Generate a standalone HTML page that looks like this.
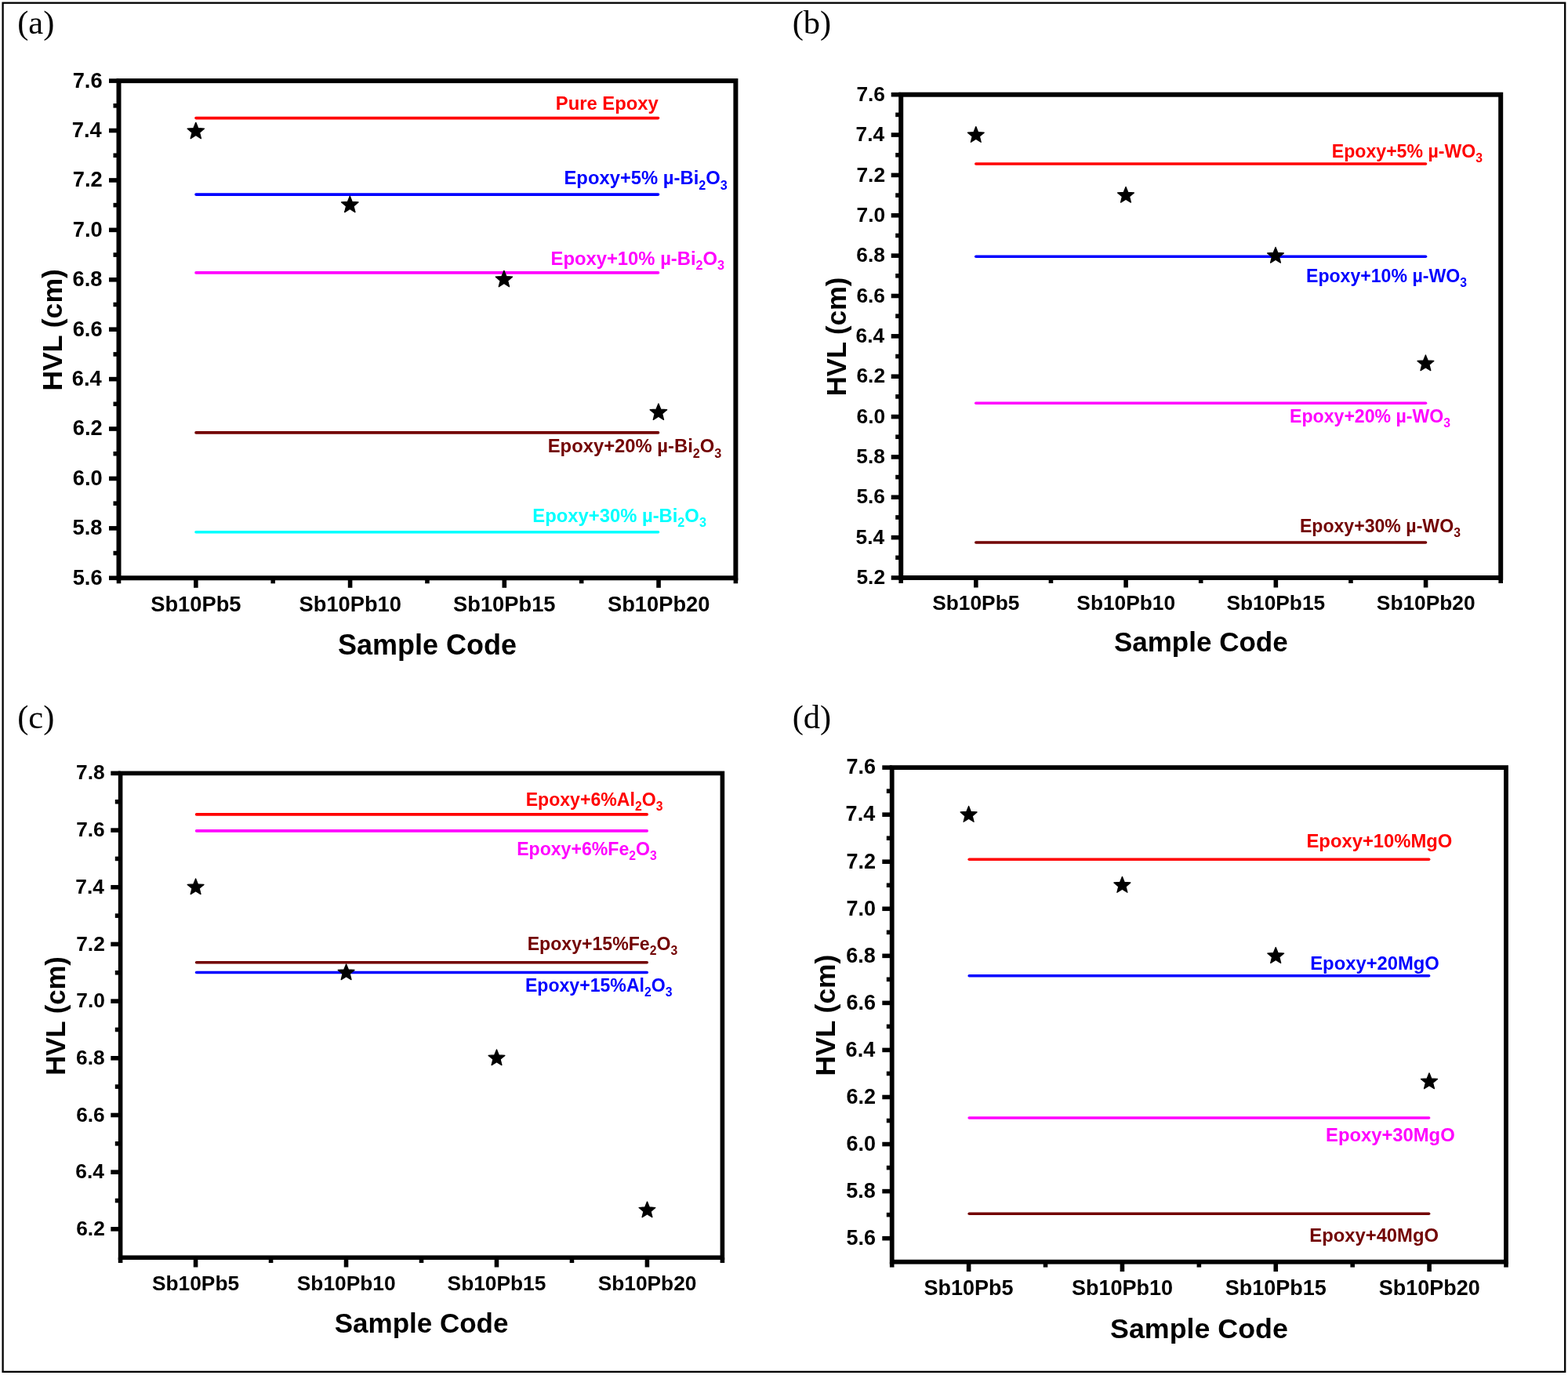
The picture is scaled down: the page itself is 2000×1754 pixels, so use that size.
<!DOCTYPE html>
<html><head><meta charset="utf-8"><title>HVL figure</title>
<style>
html,body{margin:0;padding:0;background:#fff;}
body{width:2000px;height:1754px;overflow:hidden;}
svg{display:block;}
text{font-family:"Liberation Sans",Arial,sans-serif;}
text.pl{font-family:"Liberation Serif","Times New Roman",serif;}
</style></head><body>
<svg width="2000" height="1754" viewBox="0 0 2000 1754">
<rect x="0" y="0" width="2000" height="1754" fill="#fff"/>
<rect x="3.6" y="3.7" width="1992.6" height="1746.2" fill="none" stroke="#000" stroke-width="2.3"/>
<line x1="250" x2="839.5" y1="150.6" y2="150.6" stroke="#ff0000" stroke-width="3.6" stroke-linecap="round"/>
<line x1="250" x2="839.5" y1="248.1" y2="248.1" stroke="#0000ff" stroke-width="3.6" stroke-linecap="round"/>
<line x1="250" x2="839.5" y1="347.9" y2="347.9" stroke="#ff00ff" stroke-width="3.6" stroke-linecap="round"/>
<line x1="250" x2="839.5" y1="551.9" y2="551.9" stroke="#720000" stroke-width="3.6" stroke-linecap="round"/>
<line x1="250" x2="839.5" y1="678.7" y2="678.7" stroke="#00ffff" stroke-width="3.6" stroke-linecap="round"/>
<polygon points="249.80,156.30 252.72,163.58 260.55,164.11 254.53,169.14 256.44,176.74 249.80,172.57 243.16,176.74 245.07,169.14 239.05,164.11 246.88,163.58" fill="#000" stroke="#000" stroke-width="1.3" stroke-linejoin="round"/>
<polygon points="446.30,250.20 449.22,257.48 457.05,258.01 451.03,263.04 452.94,270.64 446.30,266.47 439.66,270.64 441.57,263.04 435.55,258.01 443.38,257.48" fill="#000" stroke="#000" stroke-width="1.3" stroke-linejoin="round"/>
<polygon points="642.90,345.30 645.82,352.58 653.65,353.11 647.63,358.14 649.54,365.74 642.90,361.57 636.26,365.74 638.17,358.14 632.15,353.11 639.98,352.58" fill="#000" stroke="#000" stroke-width="1.3" stroke-linejoin="round"/>
<polygon points="839.90,514.90 842.82,522.18 850.65,522.71 844.63,527.74 846.54,535.34 839.90,531.17 833.26,535.34 835.17,527.74 829.15,522.71 836.98,522.18" fill="#000" stroke="#000" stroke-width="1.3" stroke-linejoin="round"/>
<line x1="139.0" x2="151.5" y1="737.30" y2="737.30" stroke="#000" stroke-width="5.6"/>
<line x1="139.0" x2="151.5" y1="673.88" y2="673.88" stroke="#000" stroke-width="5.6"/>
<line x1="139.0" x2="151.5" y1="610.46" y2="610.46" stroke="#000" stroke-width="5.6"/>
<line x1="139.0" x2="151.5" y1="547.04" y2="547.04" stroke="#000" stroke-width="5.6"/>
<line x1="139.0" x2="151.5" y1="483.62" y2="483.62" stroke="#000" stroke-width="5.6"/>
<line x1="139.0" x2="151.5" y1="420.20" y2="420.20" stroke="#000" stroke-width="5.6"/>
<line x1="139.0" x2="151.5" y1="356.78" y2="356.78" stroke="#000" stroke-width="5.6"/>
<line x1="139.0" x2="151.5" y1="293.36" y2="293.36" stroke="#000" stroke-width="5.6"/>
<line x1="139.0" x2="151.5" y1="229.94" y2="229.94" stroke="#000" stroke-width="5.6"/>
<line x1="139.0" x2="151.5" y1="166.52" y2="166.52" stroke="#000" stroke-width="5.6"/>
<line x1="139.0" x2="151.5" y1="103.10" y2="103.10" stroke="#000" stroke-width="5.6"/>
<line x1="144.5" x2="151.5" y1="705.59" y2="705.59" stroke="#000" stroke-width="5.6"/>
<line x1="144.5" x2="151.5" y1="642.17" y2="642.17" stroke="#000" stroke-width="5.6"/>
<line x1="144.5" x2="151.5" y1="578.75" y2="578.75" stroke="#000" stroke-width="5.6"/>
<line x1="144.5" x2="151.5" y1="515.33" y2="515.33" stroke="#000" stroke-width="5.6"/>
<line x1="144.5" x2="151.5" y1="451.91" y2="451.91" stroke="#000" stroke-width="5.6"/>
<line x1="144.5" x2="151.5" y1="388.49" y2="388.49" stroke="#000" stroke-width="5.6"/>
<line x1="144.5" x2="151.5" y1="325.07" y2="325.07" stroke="#000" stroke-width="5.6"/>
<line x1="144.5" x2="151.5" y1="261.65" y2="261.65" stroke="#000" stroke-width="5.6"/>
<line x1="144.5" x2="151.5" y1="198.23" y2="198.23" stroke="#000" stroke-width="5.6"/>
<line x1="144.5" x2="151.5" y1="134.81" y2="134.81" stroke="#000" stroke-width="5.6"/>
<line x1="249.86" x2="249.86" y1="737.3" y2="749.8" stroke="#000" stroke-width="5.6"/>
<line x1="446.59" x2="446.59" y1="737.3" y2="749.8" stroke="#000" stroke-width="5.6"/>
<line x1="643.31" x2="643.31" y1="737.3" y2="749.8" stroke="#000" stroke-width="5.6"/>
<line x1="840.04" x2="840.04" y1="737.3" y2="749.8" stroke="#000" stroke-width="5.6"/>
<line x1="151.50" x2="151.50" y1="737.3" y2="744.3" stroke="#000" stroke-width="5.6"/>
<line x1="348.23" x2="348.23" y1="737.3" y2="744.3" stroke="#000" stroke-width="5.6"/>
<line x1="544.95" x2="544.95" y1="737.3" y2="744.3" stroke="#000" stroke-width="5.6"/>
<line x1="741.67" x2="741.67" y1="737.3" y2="744.3" stroke="#000" stroke-width="5.6"/>
<line x1="938.40" x2="938.40" y1="737.3" y2="744.3" stroke="#000" stroke-width="5.6"/>
<rect x="151.5" y="103.1" width="786.9" height="634.1999999999999" fill="none" stroke="#000" stroke-width="6.0"/>
<text x="92.64" y="745.70" font-size="27.3" font-weight="700">5.6</text>
<text x="92.49" y="682.28" font-size="27.3" font-weight="700">5.8</text>
<text x="92.77" y="618.86" font-size="27.3" font-weight="700">6.0</text>
<text x="92.74" y="555.44" font-size="27.3" font-weight="700">6.2</text>
<text x="91.80" y="492.02" font-size="27.3" font-weight="700">6.4</text>
<text x="92.64" y="428.60" font-size="27.3" font-weight="700">6.6</text>
<text x="92.49" y="365.18" font-size="27.3" font-weight="700">6.8</text>
<text x="92.77" y="301.76" font-size="27.3" font-weight="700">7.0</text>
<text x="92.74" y="238.47" font-size="27.3" font-weight="700">7.2</text>
<text x="91.80" y="174.91" font-size="27.3" font-weight="700">7.4</text>
<text x="92.64" y="111.50" font-size="27.3" font-weight="700">7.6</text>
<text x="192.19" y="779.50" font-size="27.3" font-weight="700">Sb10Pb5</text>
<text x="381.50" y="779.50" font-size="27.3" font-weight="700">Sb10Pb10</text>
<text x="578.05" y="779.50" font-size="27.3" font-weight="700">Sb10Pb15</text>
<text x="774.95" y="779.50" font-size="27.3" font-weight="700">Sb10Pb20</text>
<text x="431.02" y="834.6" font-size="36" font-weight="700">Sample Code</text>
<text transform="translate(78.8,420.2) rotate(-90)" x="-78.43" y="0" font-size="35.6" font-weight="700">HVL (cm)</text>
<text fill="#ff0000"><tspan x="708.78" y="140.30" font-size="23.80" font-weight="700">Pure Epoxy</tspan></text>
<text fill="#0000ff"><tspan x="719.50" y="235.30" font-size="23.80" font-weight="700">Epoxy+5% </tspan><tspan x="845.83" y="235.30" font-size="23.80" font-weight="700">µ</tspan><tspan x="859.55" y="235.30" font-size="23.80" font-weight="700">-Bi</tspan><tspan x="891.27" y="241.73" font-size="16.18" font-weight="700">2</tspan><tspan x="900.27" y="235.30" font-size="23.80" font-weight="700">O</tspan><tspan x="918.78" y="241.73" font-size="16.18" font-weight="700">3</tspan></text>
<text fill="#ff00ff"><tspan x="702.56" y="337.50" font-size="23.80" font-weight="700">Epoxy+10% </tspan><tspan x="842.13" y="337.50" font-size="23.80" font-weight="700">µ</tspan><tspan x="855.85" y="337.50" font-size="23.80" font-weight="700">-Bi</tspan><tspan x="887.57" y="343.93" font-size="16.18" font-weight="700">2</tspan><tspan x="896.57" y="337.50" font-size="23.80" font-weight="700">O</tspan><tspan x="915.08" y="343.93" font-size="16.18" font-weight="700">3</tspan></text>
<text fill="#720000"><tspan x="698.76" y="577.20" font-size="23.80" font-weight="700">Epoxy+20% </tspan><tspan x="838.33" y="577.20" font-size="23.80" font-weight="700">µ</tspan><tspan x="852.05" y="577.20" font-size="23.80" font-weight="700">-Bi</tspan><tspan x="883.77" y="583.63" font-size="16.18" font-weight="700">2</tspan><tspan x="892.77" y="577.20" font-size="23.80" font-weight="700">O</tspan><tspan x="911.28" y="583.63" font-size="16.18" font-weight="700">3</tspan></text>
<text fill="#00ffff"><tspan x="679.36" y="665.70" font-size="23.80" font-weight="700">Epoxy+30% </tspan><tspan x="818.93" y="665.70" font-size="23.80" font-weight="700">µ</tspan><tspan x="832.65" y="665.70" font-size="23.80" font-weight="700">-Bi</tspan><tspan x="864.37" y="672.13" font-size="16.18" font-weight="700">2</tspan><tspan x="873.37" y="665.70" font-size="23.80" font-weight="700">O</tspan><tspan x="891.88" y="672.13" font-size="16.18" font-weight="700">3</tspan></text>
<text x="22.13" y="43.2" class="pl" font-size="42.5" font-weight="400">(a)</text>
<line x1="1244.8" x2="1818.5" y1="209" y2="209" stroke="#ff0000" stroke-width="3.6" stroke-linecap="round"/>
<line x1="1244.8" x2="1818.5" y1="327.2" y2="327.2" stroke="#0000ff" stroke-width="3.6" stroke-linecap="round"/>
<line x1="1244.8" x2="1818.5" y1="514.2" y2="514.2" stroke="#ff00ff" stroke-width="3.6" stroke-linecap="round"/>
<line x1="1244.8" x2="1818.5" y1="692" y2="692" stroke="#720000" stroke-width="3.6" stroke-linecap="round"/>
<polygon points="1244.80,161.60 1247.62,168.62 1255.17,169.13 1249.36,173.98 1251.21,181.32 1244.80,177.30 1238.39,181.32 1240.24,173.98 1234.43,169.13 1241.98,168.62" fill="#000" stroke="#000" stroke-width="1.3" stroke-linejoin="round"/>
<polygon points="1436.00,238.40 1438.82,245.42 1446.37,245.93 1440.56,250.78 1442.41,258.12 1436.00,254.10 1429.59,258.12 1431.44,250.78 1425.63,245.93 1433.18,245.42" fill="#000" stroke="#000" stroke-width="1.3" stroke-linejoin="round"/>
<polygon points="1627.00,315.40 1629.82,322.42 1637.37,322.93 1631.56,327.78 1633.41,335.12 1627.00,331.10 1620.59,335.12 1622.44,327.78 1616.63,322.93 1624.18,322.42" fill="#000" stroke="#000" stroke-width="1.3" stroke-linejoin="round"/>
<polygon points="1818.40,452.90 1821.22,459.92 1828.77,460.43 1822.96,465.28 1824.81,472.62 1818.40,468.60 1811.99,472.62 1813.84,465.28 1808.03,460.43 1815.58,459.92" fill="#000" stroke="#000" stroke-width="1.3" stroke-linejoin="round"/>
<line x1="1136.7" x2="1149.2" y1="737.00" y2="737.00" stroke="#000" stroke-width="5.6"/>
<line x1="1136.7" x2="1149.2" y1="685.64" y2="685.64" stroke="#000" stroke-width="5.6"/>
<line x1="1136.7" x2="1149.2" y1="634.28" y2="634.28" stroke="#000" stroke-width="5.6"/>
<line x1="1136.7" x2="1149.2" y1="582.93" y2="582.93" stroke="#000" stroke-width="5.6"/>
<line x1="1136.7" x2="1149.2" y1="531.57" y2="531.57" stroke="#000" stroke-width="5.6"/>
<line x1="1136.7" x2="1149.2" y1="480.21" y2="480.21" stroke="#000" stroke-width="5.6"/>
<line x1="1136.7" x2="1149.2" y1="428.85" y2="428.85" stroke="#000" stroke-width="5.6"/>
<line x1="1136.7" x2="1149.2" y1="377.49" y2="377.49" stroke="#000" stroke-width="5.6"/>
<line x1="1136.7" x2="1149.2" y1="326.13" y2="326.13" stroke="#000" stroke-width="5.6"/>
<line x1="1136.7" x2="1149.2" y1="274.77" y2="274.77" stroke="#000" stroke-width="5.6"/>
<line x1="1136.7" x2="1149.2" y1="223.42" y2="223.42" stroke="#000" stroke-width="5.6"/>
<line x1="1136.7" x2="1149.2" y1="172.06" y2="172.06" stroke="#000" stroke-width="5.6"/>
<line x1="1136.7" x2="1149.2" y1="120.70" y2="120.70" stroke="#000" stroke-width="5.6"/>
<line x1="1142.2" x2="1149.2" y1="711.32" y2="711.32" stroke="#000" stroke-width="5.6"/>
<line x1="1142.2" x2="1149.2" y1="659.96" y2="659.96" stroke="#000" stroke-width="5.6"/>
<line x1="1142.2" x2="1149.2" y1="608.60" y2="608.60" stroke="#000" stroke-width="5.6"/>
<line x1="1142.2" x2="1149.2" y1="557.25" y2="557.25" stroke="#000" stroke-width="5.6"/>
<line x1="1142.2" x2="1149.2" y1="505.89" y2="505.89" stroke="#000" stroke-width="5.6"/>
<line x1="1142.2" x2="1149.2" y1="454.53" y2="454.53" stroke="#000" stroke-width="5.6"/>
<line x1="1142.2" x2="1149.2" y1="403.17" y2="403.17" stroke="#000" stroke-width="5.6"/>
<line x1="1142.2" x2="1149.2" y1="351.81" y2="351.81" stroke="#000" stroke-width="5.6"/>
<line x1="1142.2" x2="1149.2" y1="300.45" y2="300.45" stroke="#000" stroke-width="5.6"/>
<line x1="1142.2" x2="1149.2" y1="249.10" y2="249.10" stroke="#000" stroke-width="5.6"/>
<line x1="1142.2" x2="1149.2" y1="197.74" y2="197.74" stroke="#000" stroke-width="5.6"/>
<line x1="1142.2" x2="1149.2" y1="146.38" y2="146.38" stroke="#000" stroke-width="5.6"/>
<line x1="1244.83" x2="1244.83" y1="737.0" y2="749.5" stroke="#000" stroke-width="5.6"/>
<line x1="1436.08" x2="1436.08" y1="737.0" y2="749.5" stroke="#000" stroke-width="5.6"/>
<line x1="1627.33" x2="1627.33" y1="737.0" y2="749.5" stroke="#000" stroke-width="5.6"/>
<line x1="1818.58" x2="1818.58" y1="737.0" y2="749.5" stroke="#000" stroke-width="5.6"/>
<line x1="1149.20" x2="1149.20" y1="737.0" y2="744.0" stroke="#000" stroke-width="5.6"/>
<line x1="1340.45" x2="1340.45" y1="737.0" y2="744.0" stroke="#000" stroke-width="5.6"/>
<line x1="1531.70" x2="1531.70" y1="737.0" y2="744.0" stroke="#000" stroke-width="5.6"/>
<line x1="1722.95" x2="1722.95" y1="737.0" y2="744.0" stroke="#000" stroke-width="5.6"/>
<line x1="1914.20" x2="1914.20" y1="737.0" y2="744.0" stroke="#000" stroke-width="5.6"/>
<rect x="1149.2" y="120.7" width="765.0" height="616.3" fill="none" stroke="#000" stroke-width="6.0"/>
<text x="1092.49" y="745.05" font-size="26.3" font-weight="700">5.2</text>
<text x="1091.58" y="693.56" font-size="26.3" font-weight="700">5.4</text>
<text x="1092.39" y="642.34" font-size="26.3" font-weight="700">5.6</text>
<text x="1092.25" y="590.98" font-size="26.3" font-weight="700">5.8</text>
<text x="1092.52" y="539.62" font-size="26.3" font-weight="700">6.0</text>
<text x="1092.49" y="488.26" font-size="26.3" font-weight="700">6.2</text>
<text x="1091.58" y="436.90" font-size="26.3" font-weight="700">6.4</text>
<text x="1092.39" y="385.55" font-size="26.3" font-weight="700">6.6</text>
<text x="1092.25" y="334.19" font-size="26.3" font-weight="700">6.8</text>
<text x="1092.52" y="282.83" font-size="26.3" font-weight="700">7.0</text>
<text x="1092.49" y="231.60" font-size="26.3" font-weight="700">7.2</text>
<text x="1091.58" y="180.11" font-size="26.3" font-weight="700">7.4</text>
<text x="1092.39" y="128.75" font-size="26.3" font-weight="700">7.6</text>
<text x="1189.26" y="777.60" font-size="26.3" font-weight="700">Sb10Pb5</text>
<text x="1373.37" y="777.60" font-size="26.3" font-weight="700">Sb10Pb10</text>
<text x="1564.45" y="777.60" font-size="26.3" font-weight="700">Sb10Pb15</text>
<text x="1755.87" y="777.60" font-size="26.3" font-weight="700">Sb10Pb20</text>
<text x="1420.93" y="831.0" font-size="35" font-weight="700">Sample Code</text>
<text transform="translate(1078.8,428.85) rotate(-90)" x="-76.45" y="0" font-size="34.7" font-weight="700">HVL (cm)</text>
<text fill="#ff0000"><tspan x="1698.84" y="200.50" font-size="23.10" font-weight="700">Epoxy+5% </tspan><tspan x="1821.46" y="200.50" font-size="23.10" font-weight="700">µ</tspan><tspan x="1834.77" y="200.50" font-size="23.10" font-weight="700">-WO</tspan><tspan x="1882.23" y="206.74" font-size="15.71" font-weight="700">3</tspan></text>
<text fill="#0000ff"><tspan x="1665.99" y="360.00" font-size="23.10" font-weight="700">Epoxy+10% </tspan><tspan x="1801.46" y="360.00" font-size="23.10" font-weight="700">µ</tspan><tspan x="1814.77" y="360.00" font-size="23.10" font-weight="700">-WO</tspan><tspan x="1862.23" y="366.24" font-size="15.71" font-weight="700">3</tspan></text>
<text fill="#ff00ff"><tspan x="1645.09" y="539.10" font-size="23.10" font-weight="700">Epoxy+20% </tspan><tspan x="1780.56" y="539.10" font-size="23.10" font-weight="700">µ</tspan><tspan x="1793.87" y="539.10" font-size="23.10" font-weight="700">-WO</tspan><tspan x="1841.33" y="545.34" font-size="15.71" font-weight="700">3</tspan></text>
<text fill="#720000"><tspan x="1657.89" y="678.90" font-size="23.10" font-weight="700">Epoxy+30% </tspan><tspan x="1793.36" y="678.90" font-size="23.10" font-weight="700">µ</tspan><tspan x="1806.67" y="678.90" font-size="23.10" font-weight="700">-WO</tspan><tspan x="1854.13" y="685.14" font-size="15.71" font-weight="700">3</tspan></text>
<text x="1010.63" y="43.2" class="pl" font-size="42.5" font-weight="400">(b)</text>
<line x1="250.6" x2="825.2" y1="1038.9" y2="1038.9" stroke="#ff0000" stroke-width="3.6" stroke-linecap="round"/>
<line x1="250.6" x2="825.2" y1="1059.9" y2="1059.9" stroke="#ff00ff" stroke-width="3.6" stroke-linecap="round"/>
<line x1="250.6" x2="825.2" y1="1227.8" y2="1227.8" stroke="#720000" stroke-width="3.6" stroke-linecap="round"/>
<line x1="250.6" x2="825.2" y1="1240.5" y2="1240.5" stroke="#0000ff" stroke-width="3.6" stroke-linecap="round"/>
<polygon points="249.60,1120.90 252.42,1127.92 259.97,1128.43 254.16,1133.28 256.01,1140.62 249.60,1136.60 243.19,1140.62 245.04,1133.28 239.23,1128.43 246.78,1127.92" fill="#000" stroke="#000" stroke-width="1.3" stroke-linejoin="round"/>
<polygon points="441.60,1229.90 444.42,1236.92 451.97,1237.43 446.16,1242.28 448.01,1249.62 441.60,1245.60 435.19,1249.62 437.04,1242.28 431.23,1237.43 438.78,1236.92" fill="#000" stroke="#000" stroke-width="1.3" stroke-linejoin="round"/>
<polygon points="633.50,1338.90 636.32,1345.92 643.87,1346.43 638.06,1351.28 639.91,1358.62 633.50,1354.60 627.09,1358.62 628.94,1351.28 623.13,1346.43 630.68,1345.92" fill="#000" stroke="#000" stroke-width="1.3" stroke-linejoin="round"/>
<polygon points="825.50,1533.00 828.32,1540.02 835.87,1540.53 830.06,1545.38 831.91,1552.72 825.50,1548.70 819.09,1552.72 820.94,1545.38 815.13,1540.53 822.68,1540.02" fill="#000" stroke="#000" stroke-width="1.3" stroke-linejoin="round"/>
<line x1="141.29999999999998" x2="153.6" y1="1567.86" y2="1567.86" stroke="#000" stroke-width="5.6"/>
<line x1="141.29999999999998" x2="153.6" y1="1495.18" y2="1495.18" stroke="#000" stroke-width="5.6"/>
<line x1="141.29999999999998" x2="153.6" y1="1422.49" y2="1422.49" stroke="#000" stroke-width="5.6"/>
<line x1="141.29999999999998" x2="153.6" y1="1349.81" y2="1349.81" stroke="#000" stroke-width="5.6"/>
<line x1="141.29999999999998" x2="153.6" y1="1277.13" y2="1277.13" stroke="#000" stroke-width="5.6"/>
<line x1="141.29999999999998" x2="153.6" y1="1204.45" y2="1204.45" stroke="#000" stroke-width="5.6"/>
<line x1="141.29999999999998" x2="153.6" y1="1131.76" y2="1131.76" stroke="#000" stroke-width="5.6"/>
<line x1="141.29999999999998" x2="153.6" y1="1059.08" y2="1059.08" stroke="#000" stroke-width="5.6"/>
<line x1="141.29999999999998" x2="153.6" y1="986.40" y2="986.40" stroke="#000" stroke-width="5.6"/>
<line x1="146.79999999999998" x2="153.6" y1="1531.52" y2="1531.52" stroke="#000" stroke-width="5.6"/>
<line x1="146.79999999999998" x2="153.6" y1="1458.84" y2="1458.84" stroke="#000" stroke-width="5.6"/>
<line x1="146.79999999999998" x2="153.6" y1="1386.15" y2="1386.15" stroke="#000" stroke-width="5.6"/>
<line x1="146.79999999999998" x2="153.6" y1="1313.47" y2="1313.47" stroke="#000" stroke-width="5.6"/>
<line x1="146.79999999999998" x2="153.6" y1="1240.79" y2="1240.79" stroke="#000" stroke-width="5.6"/>
<line x1="146.79999999999998" x2="153.6" y1="1168.11" y2="1168.11" stroke="#000" stroke-width="5.6"/>
<line x1="146.79999999999998" x2="153.6" y1="1095.42" y2="1095.42" stroke="#000" stroke-width="5.6"/>
<line x1="146.79999999999998" x2="153.6" y1="1022.74" y2="1022.74" stroke="#000" stroke-width="5.6"/>
<line x1="249.57" x2="249.57" y1="1604.2" y2="1616.5" stroke="#000" stroke-width="5.6"/>
<line x1="441.52" x2="441.52" y1="1604.2" y2="1616.5" stroke="#000" stroke-width="5.6"/>
<line x1="633.48" x2="633.48" y1="1604.2" y2="1616.5" stroke="#000" stroke-width="5.6"/>
<line x1="825.42" x2="825.42" y1="1604.2" y2="1616.5" stroke="#000" stroke-width="5.6"/>
<line x1="153.60" x2="153.60" y1="1604.2" y2="1611.0" stroke="#000" stroke-width="5.6"/>
<line x1="345.55" x2="345.55" y1="1604.2" y2="1611.0" stroke="#000" stroke-width="5.6"/>
<line x1="537.50" x2="537.50" y1="1604.2" y2="1611.0" stroke="#000" stroke-width="5.6"/>
<line x1="729.45" x2="729.45" y1="1604.2" y2="1611.0" stroke="#000" stroke-width="5.6"/>
<line x1="921.40" x2="921.40" y1="1604.2" y2="1611.0" stroke="#000" stroke-width="5.6"/>
<rect x="153.6" y="986.4" width="767.8" height="617.8000000000001" fill="none" stroke="#000" stroke-width="5.6"/>
<text x="97.24" y="1575.91" font-size="26.3" font-weight="700">6.2</text>
<text x="96.33" y="1503.23" font-size="26.3" font-weight="700">6.4</text>
<text x="97.14" y="1430.55" font-size="26.3" font-weight="700">6.6</text>
<text x="97.00" y="1357.87" font-size="26.3" font-weight="700">6.8</text>
<text x="97.27" y="1285.18" font-size="26.3" font-weight="700">7.0</text>
<text x="97.24" y="1212.63" font-size="26.3" font-weight="700">7.2</text>
<text x="96.33" y="1139.81" font-size="26.3" font-weight="700">7.4</text>
<text x="97.14" y="1067.14" font-size="26.3" font-weight="700">7.6</text>
<text x="97.00" y="994.45" font-size="26.3" font-weight="700">7.8</text>
<text x="194.01" y="1645.60" font-size="26.3" font-weight="700">Sb10Pb5</text>
<text x="378.82" y="1645.60" font-size="26.3" font-weight="700">Sb10Pb10</text>
<text x="570.60" y="1645.60" font-size="26.3" font-weight="700">Sb10Pb15</text>
<text x="762.72" y="1645.60" font-size="26.3" font-weight="700">Sb10Pb20</text>
<text x="426.73" y="1699.5" font-size="35" font-weight="700">Sample Code</text>
<text transform="translate(83.1,1295.3) rotate(-90)" x="-76.45" y="0" font-size="34.7" font-weight="700">HVL (cm)</text>
<text fill="#ff0000"><tspan x="670.63" y="1027.50" font-size="23.10" font-weight="700">Epoxy+6%Al</tspan><tspan x="809.93" y="1033.74" font-size="15.71" font-weight="700">2</tspan><tspan x="818.66" y="1027.50" font-size="23.10" font-weight="700">O</tspan><tspan x="836.63" y="1033.74" font-size="15.71" font-weight="700">3</tspan></text>
<text fill="#ff00ff"><tspan x="659.17" y="1090.50" font-size="23.10" font-weight="700">Epoxy+6%Fe</tspan><tspan x="802.33" y="1096.74" font-size="15.71" font-weight="700">2</tspan><tspan x="811.06" y="1090.50" font-size="23.10" font-weight="700">O</tspan><tspan x="829.03" y="1096.74" font-size="15.71" font-weight="700">3</tspan></text>
<text fill="#720000"><tspan x="672.72" y="1211.50" font-size="23.10" font-weight="700">Epoxy+15%Fe</tspan><tspan x="828.73" y="1217.74" font-size="15.71" font-weight="700">2</tspan><tspan x="837.46" y="1211.50" font-size="23.10" font-weight="700">O</tspan><tspan x="855.43" y="1217.74" font-size="15.71" font-weight="700">3</tspan></text>
<text fill="#0000ff"><tspan x="669.88" y="1264.70" font-size="23.10" font-weight="700">Epoxy+15%Al</tspan><tspan x="822.03" y="1270.94" font-size="15.71" font-weight="700">2</tspan><tspan x="830.76" y="1264.70" font-size="23.10" font-weight="700">O</tspan><tspan x="848.73" y="1270.94" font-size="15.71" font-weight="700">3</tspan></text>
<text x="22.13" y="929" class="pl" font-size="42.5" font-weight="400">(c)</text>
<line x1="1236.2" x2="1822.6" y1="1096.2" y2="1096.2" stroke="#ff0000" stroke-width="3.6" stroke-linecap="round"/>
<line x1="1236.2" x2="1822.6" y1="1244.7" y2="1244.7" stroke="#0000ff" stroke-width="3.6" stroke-linecap="round"/>
<line x1="1236.2" x2="1822.6" y1="1426" y2="1426" stroke="#ff00ff" stroke-width="3.6" stroke-linecap="round"/>
<line x1="1236.2" x2="1822.6" y1="1548.3" y2="1548.3" stroke="#720000" stroke-width="3.6" stroke-linecap="round"/>
<polygon points="1235.60,1028.40 1238.44,1035.48 1246.06,1036.00 1240.20,1040.90 1242.07,1048.30 1235.60,1044.24 1229.13,1048.30 1231.00,1040.90 1225.14,1036.00 1232.76,1035.48" fill="#000" stroke="#000" stroke-width="1.3" stroke-linejoin="round"/>
<polygon points="1431.40,1118.40 1434.24,1125.48 1441.86,1126.00 1436.00,1130.90 1437.87,1138.30 1431.40,1134.24 1424.93,1138.30 1426.80,1130.90 1420.94,1126.00 1428.56,1125.48" fill="#000" stroke="#000" stroke-width="1.3" stroke-linejoin="round"/>
<polygon points="1627.20,1208.50 1630.04,1215.58 1637.66,1216.10 1631.80,1221.00 1633.67,1228.40 1627.20,1224.34 1620.73,1228.40 1622.60,1221.00 1616.74,1216.10 1624.36,1215.58" fill="#000" stroke="#000" stroke-width="1.3" stroke-linejoin="round"/>
<polygon points="1823.00,1368.80 1825.84,1375.88 1833.46,1376.40 1827.60,1381.30 1829.47,1388.70 1823.00,1384.64 1816.53,1388.70 1818.40,1381.30 1812.54,1376.40 1820.16,1375.88" fill="#000" stroke="#000" stroke-width="1.3" stroke-linejoin="round"/>
<line x1="1125.3" x2="1137.7" y1="1579.67" y2="1579.67" stroke="#000" stroke-width="5.6"/>
<line x1="1125.3" x2="1137.7" y1="1519.61" y2="1519.61" stroke="#000" stroke-width="5.6"/>
<line x1="1125.3" x2="1137.7" y1="1459.56" y2="1459.56" stroke="#000" stroke-width="5.6"/>
<line x1="1125.3" x2="1137.7" y1="1399.50" y2="1399.50" stroke="#000" stroke-width="5.6"/>
<line x1="1125.3" x2="1137.7" y1="1339.44" y2="1339.44" stroke="#000" stroke-width="5.6"/>
<line x1="1125.3" x2="1137.7" y1="1279.39" y2="1279.39" stroke="#000" stroke-width="5.6"/>
<line x1="1125.3" x2="1137.7" y1="1219.33" y2="1219.33" stroke="#000" stroke-width="5.6"/>
<line x1="1125.3" x2="1137.7" y1="1159.27" y2="1159.27" stroke="#000" stroke-width="5.6"/>
<line x1="1125.3" x2="1137.7" y1="1099.21" y2="1099.21" stroke="#000" stroke-width="5.6"/>
<line x1="1125.3" x2="1137.7" y1="1039.16" y2="1039.16" stroke="#000" stroke-width="5.6"/>
<line x1="1125.3" x2="1137.7" y1="979.10" y2="979.10" stroke="#000" stroke-width="5.6"/>
<line x1="1130.8" x2="1137.7" y1="1549.64" y2="1549.64" stroke="#000" stroke-width="5.6"/>
<line x1="1130.8" x2="1137.7" y1="1489.59" y2="1489.59" stroke="#000" stroke-width="5.6"/>
<line x1="1130.8" x2="1137.7" y1="1429.53" y2="1429.53" stroke="#000" stroke-width="5.6"/>
<line x1="1130.8" x2="1137.7" y1="1369.47" y2="1369.47" stroke="#000" stroke-width="5.6"/>
<line x1="1130.8" x2="1137.7" y1="1309.41" y2="1309.41" stroke="#000" stroke-width="5.6"/>
<line x1="1130.8" x2="1137.7" y1="1249.36" y2="1249.36" stroke="#000" stroke-width="5.6"/>
<line x1="1130.8" x2="1137.7" y1="1189.30" y2="1189.30" stroke="#000" stroke-width="5.6"/>
<line x1="1130.8" x2="1137.7" y1="1129.24" y2="1129.24" stroke="#000" stroke-width="5.6"/>
<line x1="1130.8" x2="1137.7" y1="1069.19" y2="1069.19" stroke="#000" stroke-width="5.6"/>
<line x1="1130.8" x2="1137.7" y1="1009.13" y2="1009.13" stroke="#000" stroke-width="5.6"/>
<line x1="1235.61" x2="1235.61" y1="1609.7" y2="1622.1000000000001" stroke="#000" stroke-width="5.6"/>
<line x1="1431.44" x2="1431.44" y1="1609.7" y2="1622.1000000000001" stroke="#000" stroke-width="5.6"/>
<line x1="1627.26" x2="1627.26" y1="1609.7" y2="1622.1000000000001" stroke="#000" stroke-width="5.6"/>
<line x1="1823.09" x2="1823.09" y1="1609.7" y2="1622.1000000000001" stroke="#000" stroke-width="5.6"/>
<line x1="1137.70" x2="1137.70" y1="1609.7" y2="1616.6000000000001" stroke="#000" stroke-width="5.6"/>
<line x1="1333.53" x2="1333.53" y1="1609.7" y2="1616.6000000000001" stroke="#000" stroke-width="5.6"/>
<line x1="1529.35" x2="1529.35" y1="1609.7" y2="1616.6000000000001" stroke="#000" stroke-width="5.6"/>
<line x1="1725.17" x2="1725.17" y1="1609.7" y2="1616.6000000000001" stroke="#000" stroke-width="5.6"/>
<line x1="1921.00" x2="1921.00" y1="1609.7" y2="1616.6000000000001" stroke="#000" stroke-width="5.6"/>
<rect x="1137.7" y="979.1" width="783.3" height="630.6" fill="none" stroke="#000" stroke-width="5.8"/>
<text x="1079.44" y="1587.97" font-size="27" font-weight="700">5.6</text>
<text x="1079.30" y="1527.91" font-size="27" font-weight="700">5.8</text>
<text x="1079.57" y="1467.85" font-size="27" font-weight="700">6.0</text>
<text x="1079.55" y="1407.79" font-size="27" font-weight="700">6.2</text>
<text x="1078.61" y="1347.74" font-size="27" font-weight="700">6.4</text>
<text x="1079.44" y="1287.68" font-size="27" font-weight="700">6.6</text>
<text x="1079.30" y="1227.62" font-size="27" font-weight="700">6.8</text>
<text x="1079.57" y="1167.57" font-size="27" font-weight="700">7.0</text>
<text x="1079.55" y="1107.64" font-size="27" font-weight="700">7.2</text>
<text x="1078.61" y="1047.44" font-size="27" font-weight="700">7.4</text>
<text x="1079.44" y="987.39" font-size="27" font-weight="700">7.6</text>
<text x="1178.57" y="1651.80" font-size="27" font-weight="700">Sb10Pb5</text>
<text x="1367.07" y="1651.80" font-size="27" font-weight="700">Sb10Pb10</text>
<text x="1562.72" y="1651.80" font-size="27" font-weight="700">Sb10Pb15</text>
<text x="1758.72" y="1651.80" font-size="27" font-weight="700">Sb10Pb20</text>
<text x="1416.05" y="1706.5" font-size="35.8" font-weight="700">Sample Code</text>
<text transform="translate(1065.4,1294.4) rotate(-90)" x="-77.99" y="0" font-size="35.4" font-weight="700">HVL (cm)</text>
<text fill="#ff0000"><tspan x="1666.47" y="1081.40" font-size="23.80" font-weight="700">Epoxy+10%MgO</tspan></text>
<text fill="#0000ff"><tspan x="1671.23" y="1237.00" font-size="23.80" font-weight="700">Epoxy+20MgO</tspan></text>
<text fill="#ff00ff"><tspan x="1691.03" y="1455.70" font-size="23.80" font-weight="700">Epoxy+30MgO</tspan></text>
<text fill="#720000"><tspan x="1670.33" y="1583.50" font-size="23.80" font-weight="700">Epoxy+40MgO</tspan></text>
<text x="1010.63" y="929" class="pl" font-size="42.5" font-weight="400">(d)</text>
</svg>
</body></html>
